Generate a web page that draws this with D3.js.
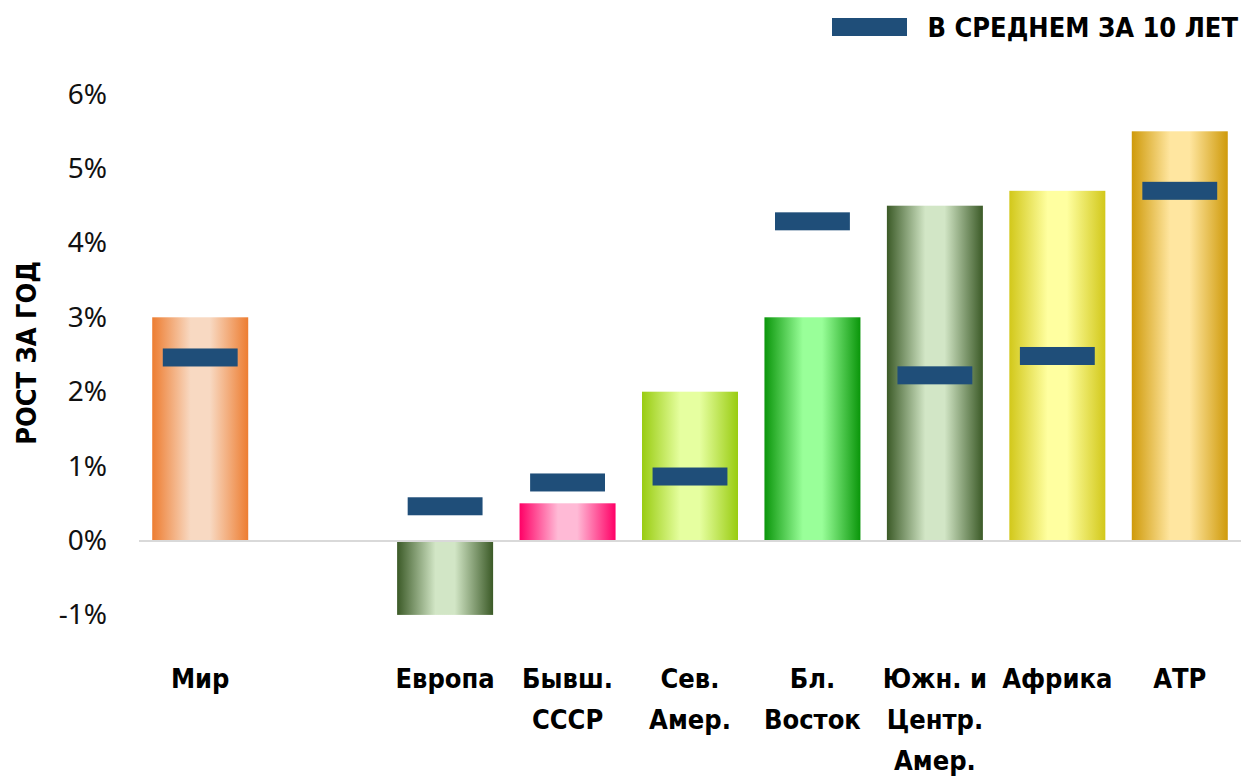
<!DOCTYPE html>
<html>
<head>
<meta charset="utf-8">
<script src="https://cdn.jsdelivr.net/npm/d3@7"></script>
<style>
  html, body { margin: 0; padding: 0; background: #ffffff; }
  svg { display: block; }
  .bold { font-family: "Liberation Sans Narrow", "DejaVu Sans Condensed", "Noto Sans", sans-serif; font-weight: bold; }
  .tick text { font-family: "Noto Sans", "Open Sans", sans-serif; }
</style>
</head>
<body>
<svg id="chart" width="1242" height="776"></svg>
<script>
// ---- Data ----
const categories = ["Мир", "", "Европа", "Бывш. СССР", "Сев. Амер.", "Бл. Восток", "Южн. и Центр. Амер.", "Африка", "АТР"];
const labelLines = [["Мир"], [], ["Европа"], ["Бывш.", "СССР"], ["Сев.", "Амер."], ["Бл.", "Восток"], ["Южн. и", "Центр.", "Амер."], ["Африка"], ["АТР"]];
const growthValues = [3.0, null, -1.0, 0.5, 2.0, 3.0, 4.5, 4.7, 5.5];
const avg10Values = [2.46, null, 0.46, 0.78, 0.86, 4.29, 2.22, 2.48, 4.70];
const yTicks = [-1, 0, 1, 2, 3, 4, 5, 6];
const barEdgeColors = ["#ED7D31", null, "#3B5A27", "#FF0066", "#99CC11", "#0A960A", "#3B5A27", "#D2C81A", "#CF9A0A"];
const barCenterColors = ["#F8D9C2", null, "#D2E6C6", "#FFBAD6", "#E6FFA0", "#99FF99", "#D2E6C6", "#FFFFA0", "#FFE6A0"];
const legendLabel = "В СРЕДНЕМ ЗА 10 ЛЕТ";
const yAxisTitle = "РОСТ ЗА ГОД";
const markerColor = "#1F4E79";

// ---- Scales ----
const svg = d3.select("#chart");
const x = d3.scaleBand().domain(d3.range(categories.length)).range([139, 1241]).paddingInner(0.216).paddingOuter(0.108);
const y = d3.scaleLinear().domain([-1, 6]).range([614.9, 94.1]);

// ---- Gradients ----
const defs = svg.append("defs");
categories.forEach((c, i) => {
  if (growthValues[i] == null) return;
  const g = defs.append("linearGradient").attr("id", "grad" + i)
    .attr("x1", "0%").attr("x2", "100%").attr("y1", "0%").attr("y2", "0%");
  g.append("stop").attr("offset", "0%").attr("stop-color", barEdgeColors[i]);
  g.append("stop").attr("offset", "40%").attr("stop-color", barCenterColors[i]);
  g.append("stop").attr("offset", "60%").attr("stop-color", barCenterColors[i]);
  g.append("stop").attr("offset", "100%").attr("stop-color", barEdgeColors[i]);
});

// ---- Y axis (labels only) ----
const yAxis = svg.append("g").attr("transform", "translate(107,0)")
  .call(d3.axisLeft(y).tickValues(yTicks).tickSize(0).tickPadding(0).tickFormat(d => d + "%"));
yAxis.select(".domain").remove();
yAxis.selectAll("text").attr("font-size", 28).attr("fill", "#111");

// Y axis title
svg.append("text").attr("class", "bold")
  .attr("transform", `translate(36,353) rotate(-90)`)
  .attr("text-anchor", "middle")
  .attr("font-size", 27).attr("fill", "#000")
  .text(yAxisTitle);

// ---- Bars ----
const idx = d3.range(categories.length).filter(i => growthValues[i] != null);
svg.append("g").selectAll("rect").data(idx).join("rect")
  .attr("x", i => x(i))
  .attr("width", x.bandwidth())
  .attr("y", i => y(Math.max(0, growthValues[i])))
  .attr("height", i => Math.abs(y(growthValues[i]) - y(0)))
  .attr("fill", i => `url(#grad${i})`);

// ---- Zero line ----
svg.append("line")
  .attr("x1", x.range()[0]).attr("x2", x.range()[1])
  .attr("y1", y(0) + 0.5).attr("y2", y(0) + 0.5)
  .attr("stroke", "#D9D9D9").attr("stroke-width", 2);

// ---- 10-year average markers ----
const mw = x.bandwidth() * 0.78, mh = 18;
svg.append("g").selectAll("rect").data(idx).join("rect")
  .attr("x", i => x(i) + (x.bandwidth() - mw) / 2)
  .attr("width", mw)
  .attr("y", i => y(avg10Values[i]) - mh / 2)
  .attr("height", mh)
  .attr("fill", markerColor);

// ---- Category labels ----
const lab = svg.append("g");
labelLines.forEach((lines, i) => {
  const t = lab.append("text").attr("class", "bold")
    .attr("x", x(i) + x.bandwidth() / 2)
    .attr("y", 688)
    .attr("text-anchor", "middle")
    .attr("font-size", 27).attr("fill", "#000");
  lines.forEach((ln, k) => {
    t.append("tspan").attr("x", x(i) + x.bandwidth() / 2).attr("dy", k === 0 ? 0 : 41).text(ln);
  });
});

// ---- Legend ----
svg.append("rect").attr("x", 832).attr("y", 18).attr("width", 75).attr("height", 18).attr("fill", markerColor);
svg.append("text").attr("class", "bold")
  .attr("x", 1238).attr("y", 37).attr("text-anchor", "end")
  .attr("font-size", 27).attr("fill", "#000")
  .text(legendLabel);
</script>
</body>
</html>
